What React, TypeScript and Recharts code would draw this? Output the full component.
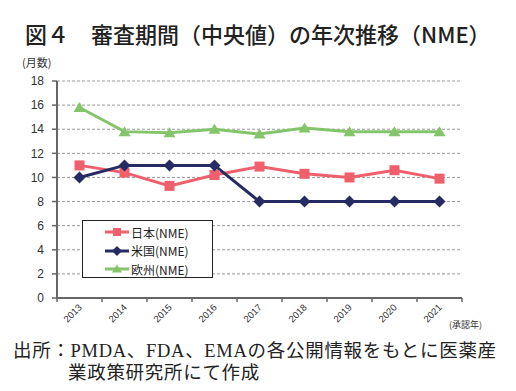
import React from "react";
import {
  LineChart,
  Line,
  XAxis,
  YAxis,
  CartesianGrid,
  Legend,
} from "recharts";

const years = ["2013", "2014", "2015", "2016", "2017", "2018", "2019", "2020", "2021"];
const japanNme = [11.0, 10.4, 9.3, 10.2, 10.9, 10.3, 10.0, 10.6, 9.9];
const usNme = [10, 11, 11, 11, 8, 8, 8, 8, 8];
const euNme = [15.8, 13.8, 13.7, 14.0, 13.6, 14.1, 13.8, 13.8, 13.8];
const yTicks = [0, 2, 4, 6, 8, 10, 12, 14, 16, 18];

const data = years.map((year, i) => ({
  year,
  japan: japanNme[i],
  us: usNme[i],
  eu: euNme[i],
}));

const RED = "#f0606c";
const NAVY = "#272b63";
const GREEN = "#84c56c";
const AXIS = "#666";
const NUM_FONT = "'Liberation Sans', Arial, 'Noto Sans CJK JP', sans-serif";
const JP_FONT = "'Noto Sans CJK JP', sans-serif";
const BAND = 45;

type Shape = "square" | "diamond" | "triangle";

function marker(shape: Shape, cx: number, cy: number, color: string, s: number) {
  if (shape === "square") {
    return <rect x={cx - s / 2} y={cy - s / 2} width={s} height={s} fill={color} />;
  }
  if (shape === "diamond") {
    const h = s / 2 + 1;
    return (
      <polygon
        points={`${cx},${cy - h} ${cx + h},${cy} ${cx},${cy + h} ${cx - h},${cy}`}
        fill={color}
      />
    );
  }
  const h = s / 2 + 0.5;
  return (
    <polygon
      points={`${cx},${cy - h} ${cx + h + 0.5},${cy + h - 1} ${cx - h - 0.5},${cy + h - 1}`}
      fill={color}
    />
  );
}

const dotFor = (shape: Shape, color: string) => (props: any) => {
  const { cx, cy, index } = props;
  if (cx == null || cy == null) return <g key={index} />;
  return <g key={index}>{marker(shape, cx, cy, color, 10)}</g>;
};

const SERIES: { key: string; name: string; color: string; shape: Shape }[] = [
  { key: "japan", name: "日本(NME)", color: RED, shape: "square" },
  { key: "us", name: "米国(NME)", color: NAVY, shape: "diamond" },
  { key: "eu", name: "欧州(NME)", color: GREEN, shape: "triangle" },
];

function XTick(props: any) {
  const { x, y, payload, index } = props;
  return (
    <g>
      <line x1={x - BAND / 2} y1={y} x2={x - BAND / 2} y2={y + 4} stroke={AXIS} strokeWidth={1.5} />
      {index === years.length - 1 && (
        <line x1={x + BAND / 2} y1={y} x2={x + BAND / 2} y2={y + 4} stroke={AXIS} strokeWidth={1.5} />
      )}
      <text
        x={x + 3}
        y={y + 10}
        transform={`rotate(-45, ${x + 3}, ${y + 10})`}
        textAnchor="end"
        fontSize={9.5}
        fontFamily={NUM_FONT}
        fill="#333"
      >
        {payload.value}
      </text>
    </g>
  );
}

function LegendBox(props: any) {
  const payload = props.payload || [];
  return (
    <div
      style={{
        border: "1px solid #222",
        background: "#fff",
        width: 129,
        height: 54,
        boxSizing: "content-box",
        paddingTop: 2,
      }}
    >
      {SERIES.map((s) => {
        const entry = payload.find((p: any) => p.dataKey === s.key);
        return (
          <div
            key={s.key}
            style={{ display: "flex", alignItems: "center", height: 18.5, paddingLeft: 22 }}
          >
            <svg width={25} height={12} style={{ display: "block" }}>
              <line x1={0} y1={6} x2={24} y2={6} stroke={s.color} strokeWidth={3} />
              {marker(s.shape, 12, 6, s.color, 8)}
            </svg>
            <span style={{ fontSize: 12, fontFamily: JP_FONT, color: "#222", marginLeft: 1 }}>
              {entry ? entry.value : s.name}
            </span>
          </div>
        );
      })}
    </div>
  );
}

export default function App() {
  return (
    <div style={{ position: "absolute", left: 0, top: 0, width: 516, height: 391, background: "#fff" }}>
      <div
        style={{
          position: "absolute",
          left: 25,
          top: 18,
          fontSize: 22,
          fontFamily: JP_FONT,
          fontWeight: 500,
          color: "#222",
          whiteSpace: "nowrap",
          lineHeight: "30px",
        }}
      >
        図４　審査期間（中央値）の年次推移（NME）
      </div>
      <div
        style={{
          position: "absolute",
          left: 22,
          top: 55,
          fontSize: 11,
          fontFamily: JP_FONT,
          color: "#333",
          lineHeight: "14px",
        }}
      >
        (月数)
      </div>
      <LineChart
        width={516}
        height={391}
        data={data}
        margin={{ top: 81, right: 54, bottom: 53, left: 0 }}
      >
        <CartesianGrid vertical={false} stroke="#999" strokeDasharray="3 2" />
        <XAxis
          dataKey="year"
          height={40}
          padding={{ left: BAND / 2, right: BAND / 2 }}
          tickLine={false}
          tickSize={0}
          tickMargin={0}
          axisLine={{ stroke: AXIS, strokeWidth: 2 }}
          tick={<XTick />}
          interval={0}
        />
        <YAxis
          width={57}
          domain={[0, 18]}
          ticks={yTicks}
          interval={0}
          tickSize={5}
          tickMargin={8}
          tickLine={{ stroke: AXIS, strokeWidth: 1.5 }}
          axisLine={{ stroke: AXIS, strokeWidth: 2 }}
          tick={{ fontSize: 12, fill: "#333", fontFamily: NUM_FONT }}
        />
        {SERIES.map((s) => (
          <Line
            key={s.key}
            dataKey={s.key}
            name={s.name}
            stroke={s.color}
            strokeWidth={3}
            dot={dotFor(s.shape, s.color)}
            activeDot={false}
            isAnimationActive={false}
          />
        ))}
        <Legend
          layout="horizontal"
          align="center"
          verticalAlign="middle"
          content={<LegendBox />}
          wrapperStyle={{ position: "absolute", left: 82, top: 220, width: 131, height: 58 }}
        />
      </LineChart>
      <div
        style={{
          position: "absolute",
          left: 449,
          top: 319,
          fontSize: 9,
          fontFamily: JP_FONT,
          color: "#333",
          lineHeight: "12px",
        }}
      >
        (承認年)
      </div>
      <div
        style={{
          position: "absolute",
          left: 13,
          top: 340,
          fontSize: 18.5,
          letterSpacing: 0.7,
          fontFamily: "'Liberation Serif', 'DejaVu Serif', 'Noto Sans CJK JP', serif",
          color: "#222",
          lineHeight: "22px",
          width: 503,
        }}
      >
        <div style={{ whiteSpace: "nowrap" }}>出所：PMDA、FDA、EMAの各公開情報をもとに医薬産</div>
        <div style={{ paddingLeft: 55, whiteSpace: "nowrap" }}>業政策研究所にて作成</div>
      </div>
    </div>
  );
}
